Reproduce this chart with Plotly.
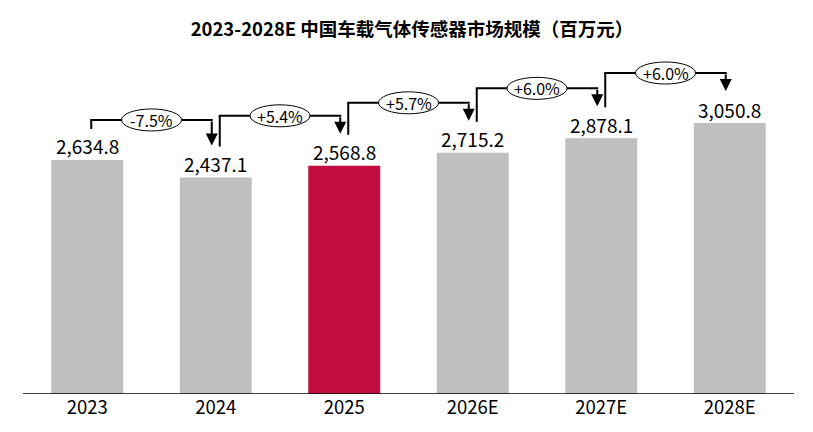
import plotly.graph_objects as go

# ---- data ----
categories = ["2023", "2024", "2025", "2026E", "2027E", "2028E"]
market_size = [2634.8, 2437.1, 2568.8, 2715.2, 2878.1, 3050.8]
highlight = "2025"
title_text = "2023-2028E 中国车载气体传感器市场规模（百万元）"

# ---- layout constants ----
W, H = 813, 432
M_L, M_R, M_T, M_B = 23, 19, 60, 38
plot_w = W - M_L - M_R
plot_h = H - M_T - M_B
YMAX = 3760.0
FONT = "Noto Sans CJK SC"

ppu_y = plot_h / YMAX              # pixels per data unit (y)
ppu_x = plot_w / len(categories)   # pixels per category (x)
def py(px):
    return px / ppu_y
def px_x(px):
    return px / ppu_x

GRAY = "#BFBFBF"
RED = "#C20E3E"
xs = list(range(len(categories)))
colors = [RED if c == highlight else GRAY for c in categories]

fig = go.Figure()
fig.add_trace(go.Bar(
    x=xs, y=market_size, marker=dict(color=colors, line=dict(width=0)),
    hoverinfo="skip", showlegend=False,
))

annotations = []
shapes = []

# value labels
for i, v in enumerate(market_size):
    annotations.append(dict(
        x=i, y=v, xref="x", yref="y", text=f"{v:,.1f}", showarrow=False,
        yanchor="middle", yshift=14,
        font=dict(family=FONT, size=19, color="#000000"),
    ))

# growth connectors
for i in range(len(market_size) - 1):
    v0, v1 = market_size[i], market_size[i + 1]
    g = v1 / v0 - 1
    label = f"{g*100:+.1f}%"
    x_start = i + px_x(4)
    x_end = i + 1 - px_x(4)
    y_start = v0 + py(31)
    y_tip = v1 + py(32)
    gap = 18 if g > 0 else 9
    y_h = max(y_start, y_tip) + py(gap)
    line = dict(color="#000000", width=2)
    shapes.append(dict(type="line", xref="x", yref="y", x0=x_start, x1=x_start,
                       y0=y_start, y1=y_h, line=line, layer="above"))
    shapes.append(dict(type="line", xref="x", yref="y", x0=x_start - px_x(1), x1=x_end + px_x(1),
                       y0=y_h, y1=y_h, line=line, layer="above"))
    annotations.append(dict(
        x=x_end, y=y_tip, ax=x_end, ay=y_h, xref="x", yref="y", axref="x", ayref="y",
        text="", showarrow=True, arrowhead=2, arrowsize=1.2, arrowwidth=2,
        arrowcolor="#000000", standoff=0, startstandoff=0,
    ))
    xm = (x_start + x_end) / 2
    shapes.append(dict(type="circle", xref="x", yref="y", xsizemode="pixel", ysizemode="pixel",
                       xanchor=xm, yanchor=y_h, x0=-30, x1=30, y0=-11, y1=11,
                       fillcolor="#FFFFFF", line=dict(color="#000000", width=1), layer="above"))
    annotations.append(dict(
        x=xm, y=y_h, xref="x", yref="y", text=label, showarrow=False,
        font=dict(family=FONT, size=16, color="#000000"), yanchor="middle", xanchor="center",
    ))

# baseline
shapes.append(dict(type="line", xref="paper", yref="y", x0=0, x1=1, y0=0, y1=0,
                   line=dict(color="#000000", width=1.5), layer="above"))

fig.update_layout(
    width=W, height=H,
    margin=dict(l=M_L, r=M_R, t=M_T, b=M_B),
    paper_bgcolor="#FFFFFF", plot_bgcolor="#FFFFFF",
    bargap=0.44,
    title=dict(text=f"<b>{title_text}</b>", x=412 / W, xanchor="center", y=1 - 30 / H, yanchor="middle",
               font=dict(family=FONT, size=18.5, color="#000000")),
    xaxis=dict(range=[-0.5, len(categories) - 0.5], tickmode="array", tickvals=xs, ticktext=categories,
               showgrid=False, zeroline=False, showline=False, ticks="",
               tickfont=dict(family=FONT, size=18.5, color="#000000")),
    yaxis=dict(range=[0, YMAX], visible=False, showgrid=False, zeroline=False),
    shapes=shapes, annotations=annotations,
    font=dict(family=FONT),
)

fig.write_html("out.html", config={"displayModeBar": False},
               post_script="document.body.style.margin='0';")
